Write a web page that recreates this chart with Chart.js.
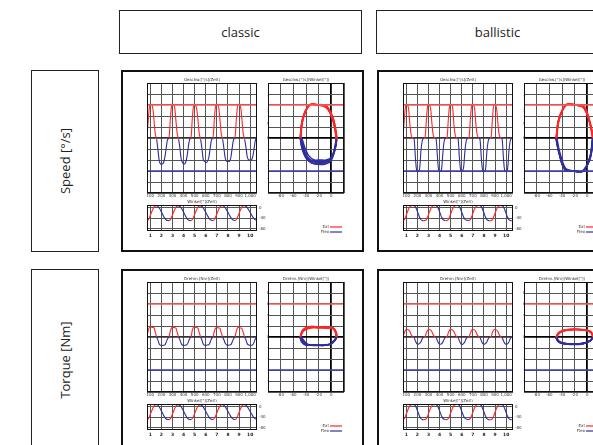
<!DOCTYPE html>
<html>
<head>
<meta charset="utf-8">
<script src="https://cdn.jsdelivr.net/npm/chart.js@4"></script>
<style>
  body { margin:0; width:593px; height:445px; overflow:hidden; background:#fff; position:relative; font-family:"Open Sans", sans-serif; color:#222; }
  .box { position:absolute; box-sizing:border-box; border:1.5px solid #222; background:#fff; }
  .hdr { display:flex; align-items:center; justify-content:center; font-size:13px; }
  .rowlab span { position:absolute; left:50%; top:50%; transform:translate(-50%,-50%) rotate(-90deg); white-space:nowrap; font-size:13px; }
  .cell { border:2px solid #111; }
  canvas { position:absolute; }
</style>
</head>
<body>
<div class="box hdr" style="left:119px;top:10px;width:243px;height:44px">classic</div>
<div class="box hdr" style="left:376px;top:10px;width:243px;height:44px">ballistic</div>
<div class="box rowlab" style="left:31px;top:70px;width:68px;height:182px"><span>Speed [°/s]</span></div>
<div class="box rowlab" style="left:31px;top:269px;width:68px;height:182px"><span>Torque [Nm]</span></div>

<script>
/* ---- data (5 movement cycles, 16 samples each) ---- */
const xTicks   = [100, 200, 300, 400, 500, 600, 700, 800, 900, 1000];
const T0 = 70, DT = 12.4;                 // sample time axis
const phaseTicks = [-100, -80, -60, -40, -20, 0, 20];
const posTicks   = [0, -20, -40, -60, -80];

const speedLimit  = 12;
const torqueLimit = 600;

const classicSpeed = [
  0, 7, 12, 12, 11.5, 7, 1.5, -0.5, -4.5, -8.5, -9.5, -9.5, -9, -7, -3.5, -0.5,
  0, 7, 12, 12, 11.5, 6.5, 1.5, -0.5, -4, -8, -9, -9.5, -9, -7, -3.5, -0.5,
  0, 7.5, 12, 12, 11, 7, 1.5, -0.5, -4, -8, -8.5, -9, -8.5, -7, -3.5, -0.5,
  0, 7, 12, 12, 11.5, 7, 1.5, -0.5, -4, -7.5, -8.5, -8.5, -8.5, -7, -3.5, -0.5,
  0, 7, 12, 12, 11.5, 7, 1.5, -0.5, -3.5, -7, -8, -8, -8, -6.5, -3.5, -0.5,
  0
];
const classicPos = [
  -49, -45.1, -34.5, -21.1, -7.9, 2.5, 7.3, 7.9, 5.4, -1.3, -10.8, -21.2, -31.6, -40.6, -46.5, -48.7,
  -49, -45.1, -34.5, -21.1, -7.9, 2.2, 6.9, 7.5, 5.1, -1.3, -10.5, -20.8, -31.3, -40.3, -46.3, -48.6,
  -49, -44.9, -34.1, -20.9, -8, 2.2, 7, 7.6, 5.3, -1.1, -10.2, -20.1, -30.1, -39, -45.2, -47.9,
  -48.5, -44.6, -34, -20.6, -7.4, 3, 7.8, 8.4, 6, -0.3, -9.2, -18.9, -28.5, -37.5, -44, -47.5,
  -48.6, -44.7, -34.1, -20.7, -7.5, 2.9, 7.7, 8.3, 6, 0.2, -8.2, -17.6, -26.9, -35.5, -42, -46.2,
  -48.5
];
const classicTorque = [
  0, 130, 185, 180, 175, 170, 90, 0, -60, -130, -150, -155, -150, -145, -90, -30,
  0, 110, 170, 175, 170, 165, 80, 0, -55, -125, -150, -150, -150, -140, -95, -30,
  0, 125, 185, 180, 175, 160, 80, 0, -60, -130, -150, -150, -145, -140, -90, -25,
  0, 105, 165, 170, 165, 160, 75, 0, -55, -120, -145, -150, -145, -140, -90, -30,
  0, 110, 170, 170, 165, 155, 80, 0, -55, -125, -145, -150, -150, -140, -85, -25,
  0
];

const ballisticSpeed = [
  0, 7, 12, 12, 11, 5, 1, 0, 0, -7, -12, -12, -11.5, -5, -1, 0,
  0, 6.5, 12, 12, 11, 5.5, 1, 0, 0, -6.5, -12, -12, -11.5, -5.5, -1, 0,
  0, 7, 12, 12, 11.5, 5, 1, 0, 0, -7, -12, -12, -11, -5, -1, 0,
  0, 7, 12, 12, 11, 5, 1, 0, -0.5, -7.5, -12, -12, -11.5, -5, -1, 0,
  0, 6.5, 12, 12, 11, 5.5, 1, 0, 0, -7, -12, -12, -11.5, -5, -1, 0,
  0
];
const ballisticPos = [
  -49, -44.8, -33.4, -19, -5.2, 4.4, 8, 8.6, 8.6, 4.4, -7, -21.4, -35.2, -44.8, -48.4, -49,
  -49, -45, -33.9, -19.5, -5.7, 4.2, 8, 8.6, 8.6, 4.7, -6.4, -20.8, -34.6, -44.3, -48.1, -48.8,
  -48.8, -44.6, -33.2, -18.8, -4.8, 4.8, 8.4, 9, 9, 4.8, -6.6, -21, -34.5, -43.8, -47.4, -48,
  -48.5, -44.3, -32.9, -18.5, -4.7, 4.9, 8.5, 9.1, 8.9, 4.3, -7.3, -21.7, -35.5, -45.1, -48.7, -49.3,
  -49.3, -45.4, -34.2, -19.8, -6, 3.9, 7.7, 8.3, 8.3, 4.1, -7.3, -21.7, -35.5, -45.1, -48.7, -49.3,
  -49
];
const ballisticTorque = [
  0, 80, 130, 140, 130, 100, 40, 5, -5, -70, -120, -130, -120, -90, -30, 0,
  0, 75, 125, 135, 130, 95, 40, 5, -5, -65, -115, -130, -125, -90, -35, 0,
  0, 80, 130, 140, 125, 100, 45, 5, -5, -70, -120, -135, -120, -85, -30, 0,
  0, 70, 125, 135, 130, 95, 40, 5, -5, -70, -120, -130, -120, -90, -30, 0,
  0, 80, 130, 135, 125, 100, 40, 5, -5, -65, -115, -130, -125, -90, -30, 0,
  0
];

/* ---- styling ---- */
const RED = '#ff2626', BLUE = '#2e2e9e', LIM_RED = '#ff5a5a', LIM_BLUE = '#3b3bb0';
const GRID = '#555', AXIS = '#111';
const tickFont = { size: 4, family: 'DejaVu Sans' };
const tMin = T0, tMax = T0 + (classicSpeed.length - 1) * DT;

const bySign = ctx => (ctx.p0.parsed.y + ctx.p1.parsed.y) >= 0 ? RED : BLUE;
const byRise = ctx => ctx.p1.parsed.y >= ctx.p0.parsed.y ? RED : BLUE;
const series = vals => vals.map((v, i) => ({ x: T0 + i * DT, y: v }));
const loop = (pos, vals) => vals.map((v, i) => ({ x: pos[i], y: v }));

// plot frame + tiny title + optional corner legend
const deco = {
  id: 'deco',
  afterDraw(chart, args, o) {
    const a = chart.chartArea, g = chart.ctx;
    g.save();
    g.strokeStyle = AXIS; g.lineWidth = 1;
    g.strokeRect(a.left + 0.5, a.top + 0.5, a.width - 1, a.height - 1);
    g.fillStyle = '#333';
    g.font = '4px "DejaVu Sans"';
    g.textAlign = 'center'; g.textBaseline = 'bottom';
    if (o.title) g.fillText(o.title, (a.left + a.right) / 2, a.top - 1);
    if (o.legend) {
      const [lx, ly] = o.legend;
      [['Ext', RED], ['Flex', BLUE]].forEach(([t, c], k) => {
        g.textAlign = 'right'; g.textBaseline = 'middle'; g.fillStyle = '#333';
        g.fillText(t, lx - 1, ly + k * 5);
        g.strokeStyle = c; g.lineWidth = 1.2;
        g.beginPath(); g.moveTo(lx, ly + k * 5); g.lineTo(lx + 12, ly + k * 5); g.stroke();
      });
    }
    g.restore();
  }
};

function canvasAt(x, y, w, h) {
  const c = document.createElement('canvas');
  c.width = w; c.height = h;
  c.style.left = x + 'px'; c.style.top = y + 'px';
  c.style.width = w + 'px'; c.style.height = h + 'px';
  document.body.appendChild(c);
  return c;
}

function limitSets(x0, x1, lim) {
  return [
    { data: [{ x: x0, y: lim }, { x: x1, y: lim }], borderColor: LIM_RED, borderWidth: 1.5, pointRadius: 0 },
    { data: [{ x: x0, y: -lim }, { x: x1, y: -lim }], borderColor: LIM_BLUE, borderWidth: 1.5, pointRadius: 0 },
  ];
}

const baseOpts = (pad) => ({
  responsive: false, animation: false, events: [],
  layout: { padding: pad },
  plugins: { legend: { display: false }, tooltip: { enabled: false } },
});

const zeroGrid = (tick0) => ({
  color: c => c.tick && c.tick.value === 0 ? tick0 : GRID,
  lineWidth: c => c.tick && c.tick.value === 0 ? 1.8 : 1,
  drawTicks: false,
});

function timeChart(cx, cy, vals, lim, yMax, gridStep, labelStep, title) {
  const o = baseOpts({ left: 10, top: 8, right: 0, bottom: 0 });
  o.plugins.deco = { title };
  o.scales = {
    x: { type: 'linear', min: tMin, max: tMax,
         afterBuildTicks: s => { s.ticks = xTicks.map(v => ({ value: v })); },
         ticks: { font: tickFont, color: '#333', padding: 1, maxRotation: 0, autoSkip: false },
         grid: { color: GRID, drawTicks: false }, border: { display: false },
         afterFit: s => { s.height = 9; } },
    y: { min: -yMax, max: yMax, ticks: { display: false, stepSize: gridStep },
         grid: zeroGrid('#333'), border: { display: false }, afterFit: s => { s.width = 0; } },
    y2: { position: 'right', min: -yMax, max: yMax,
          ticks: { stepSize: labelStep, font: tickFont, color: '#333', padding: 2,
                   callback: v => Math.abs(v) >= yMax ? '' : v },
          grid: { display: false }, border: { display: false }, afterFit: s => { s.width = 12; } },
  };
  new Chart(canvasAt(cx + 16, cy + 5, 132, 127), {
    type: 'line',
    data: { datasets: [
      ...limitSets(tMin, tMax, lim),
      { data: series(vals), borderWidth: 1.1, pointRadius: 0, tension: 0.35, segment: { borderColor: bySign } },
    ] },
    options: o, plugins: [deco],
  });
}

function phaseChart(cx, cy, pos, vals, lim, yMax, gridStep, title) {
  const o = baseOpts({ left: 2, top: 8, right: 2, bottom: 0 });
  o.plugins.deco = { title };
  o.scales = {
    x: { type: 'linear', min: -100, max: 20,
         afterBuildTicks: s => { s.ticks = phaseTicks.map(v => ({ value: v })); },
         ticks: { font: tickFont, color: '#333', padding: 1, maxRotation: 0, autoSkip: false,
                  callback: v => (v <= -100 || v >= 20) ? '' : v },
         grid: zeroGrid('#000'), border: { display: false }, afterFit: s => { s.height = 9; } },
    y: { min: -yMax, max: yMax, ticks: { display: false, stepSize: gridStep },
         grid: zeroGrid('#000'), border: { display: false }, afterFit: s => { s.width = 0; } },
  };
  new Chart(canvasAt(cx + 145, cy + 5, 80, 127), {
    type: 'line',
    data: { datasets: [
      ...limitSets(-100, 20, lim),
      { data: loop(pos, vals), borderWidth: 1.6, pointRadius: 0, tension: 0.35, segment: { borderColor: bySign } },
    ] },
    options: o, plugins: [deco],
  });
}

function posChart(cx, cy, pos, title) {
  const o = baseOpts({ left: 10, top: 9, right: 78, bottom: 0 });
  o.plugins.deco = { title, legend: [193, 31] };
  o.scales = {
    x: { type: 'linear', min: tMin, max: tMax,
         afterBuildTicks: s => { s.ticks = xTicks.map(v => ({ value: v })); },
         ticks: { font: { size: 4.5, family: 'DejaVu Sans', weight: 'bold' }, color: '#222', padding: 2, maxRotation: 0, autoSkip: false,
                  callback: v => v / 100 },
         grid: { color: GRID, drawTicks: false }, border: { display: false }, afterFit: s => { s.height = 10; } },
    y: { position: 'right', min: -89, max: 11,
         afterBuildTicks: s => { s.ticks = posTicks.map(v => ({ value: v })); },
         ticks: { font: tickFont, color: '#333', padding: 2 },
         grid: { color: GRID, drawTicks: false }, border: { display: false }, afterFit: s => { s.width = 12; } },
  };
  new Chart(canvasAt(cx + 16, cy + 126, 210, 45), {
    type: 'line',
    data: { datasets: [
      { data: series(pos), borderWidth: 1.1, pointRadius: 0, tension: 0.35, segment: { borderColor: byRise } },
    ] },
    options: o, plugins: [deco],
  });
}

function cell(cx, cy, kind, pos, vals) {
  const b = document.createElement('div');
  b.className = 'box cell';
  Object.assign(b.style, { left: cx + 'px', top: cy + 'px', width: '243px', height: '182px' });
  document.body.appendChild(b);
  if (kind === 'speed') {
    timeChart(cx, cy, vals, speedLimit, 20, 4, 5, 'Geschw.[°/s](Zeit)');
    phaseChart(cx, cy, pos, vals, speedLimit, 20, 4, 'Geschw.[°/s](Winkel[°])');
  } else {
    timeChart(cx, cy, vals, torqueLimit, 1000, 200, 200, 'Drehm.[Nm](Zeit)');
    phaseChart(cx, cy, pos, vals, torqueLimit, 1000, 200, 'Drehm.[Nm](Winkel[°])');
  }
  posChart(cx, cy, pos, 'Winkel[°](Zeit)');
}

cell(121, 70, 'speed', classicPos, classicSpeed);
cell(377, 70, 'speed', ballisticPos, ballisticSpeed);
cell(121, 269, 'torque', classicPos, classicTorque);
cell(377, 269, 'torque', ballisticPos, ballisticTorque);
</script>
</body>
</html>
